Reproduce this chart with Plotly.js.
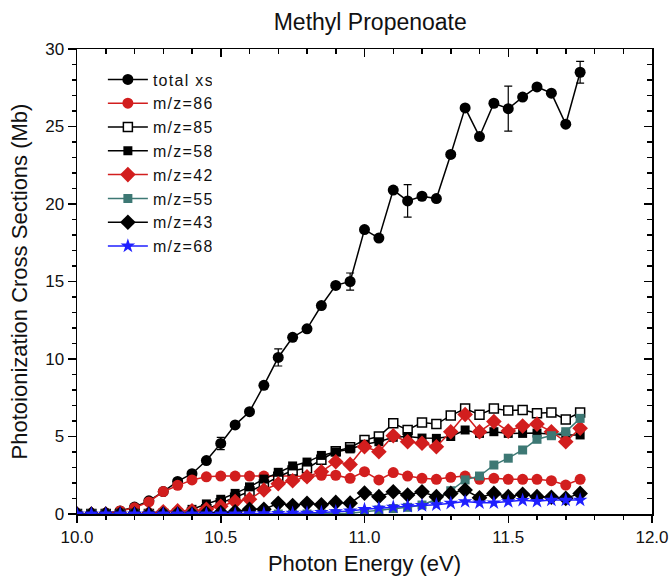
<!DOCTYPE html>
<html>
<head>
<meta charset="utf-8">
<script src="https://cdn.plot.ly/plotly-3.0.1.min.js"></script>
<style>html,body{margin:0;padding:0;background:#fff;}#chart{width:670px;height:577px;}
#chart .legendtext{letter-spacing:1.3px;}</style>
</head>
<body>
<div id="chart"></div>
<script>
const energy = [10.00,10.05,10.10,10.15,10.20,10.25,10.30,10.35,10.40,10.45,10.50,10.55,10.60,10.65,10.70,10.75,10.80,10.85,10.90,10.95,11.00,11.05,11.10,11.15,11.20,11.25,11.30,11.35,11.40,11.45,11.50,11.55,11.60,11.65,11.70,11.75];
const totalXs = [0,0,0.05,0.2,0.45,0.85,1.45,2.1,2.6,3.45,4.55,5.75,6.6,8.3,10.1,11.4,11.95,13.45,14.75,15.0,18.35,17.8,20.9,20.2,20.5,20.35,23.2,26.2,24.35,26.5,26.15,26.9,27.55,27.15,25.15,28.5];
const totalErr = [null,null,null,null,null,null,null,null,null,null,0.4,null,null,null,0.55,null,null,null,null,0.55,null,null,null,1.05,null,null,null,null,null,null,1.45,null,null,null,null,0.7];
const mz86 = [0,0,0.05,0.2,0.4,0.78,1.45,1.85,2.2,2.4,2.45,2.45,2.45,2.45,2.42,2.45,2.4,2.5,2.5,2.3,2.73,2.2,2.67,2.45,2.3,2.24,2.37,2.45,2.24,2.3,2.24,2.24,2.24,2.15,1.87,2.24];
const mz85 = [0,0,0,0,0,0,0,0.02,0.1,0.3,0.7,1.05,1.45,1.9,2.4,2.8,2.95,3.5,4.05,4.3,4.77,5.0,5.85,5.42,5.9,5.8,6.35,6.8,6.4,6.8,6.67,6.71,6.5,6.55,6.1,6.55];
const mz58 = [0,0,0,0,0,0,0.02,0.05,0.3,0.65,0.95,1.33,1.75,2.25,2.69,3.1,3.35,3.78,4.0,4.2,4.5,4.66,4.95,5.0,4.9,4.88,5.0,5.42,5.2,5.31,5.2,5.2,5.22,5.15,5.1,5.1];
const mz42 = [0,0,0,0,0,0.05,0.15,0.2,0.2,0.3,0.5,0.8,0.95,1.55,1.95,2.15,2.4,2.73,3.37,3.2,4.34,4.02,5.05,4.66,4.56,4.34,5.31,6.42,5.31,5.96,5.35,5.68,5.8,5.31,4.66,5.53];
const mz55 = [0,0,0,0,0,0,0,0,0,0,0,0,0,0,0,0,0,0,0.03,0.05,0.15,0.26,0.35,0.43,0.58,0.95,1.5,2.2,2.45,3.16,3.6,4.13,4.82,5.05,5.31,6.17];
const mz43 = [0,0,0,0,0,0,0,0,0,0.05,0.1,0.15,0.3,0.3,0.69,0.55,0.69,0.6,0.75,0.7,1.35,1.12,1.44,1.23,1.44,1.12,1.33,1.55,1.05,1.33,1.12,1.27,1.12,1.08,1.01,1.33];
const mz68 = [0,0,0,0,0,0,0,0,0,0,0,0,0.02,0.03,0.04,0.05,0.06,0.1,0.15,0.2,0.3,0.38,0.45,0.5,0.55,0.6,0.7,0.8,0.72,0.72,0.8,0.88,0.82,0.9,0.9,0.9];
const seriesNames = ['total xs','m/z=86','m/z=85','m/z=58','m/z=42','m/z=55','m/z=43','m/z=68'];

const RED = '#d21e1e', TEAL = '#3d7874', BLUE = '#1f1fff';
function tr(name, y, lineColor, marker, extra) {
  return Object.assign({
    type: 'scatter', mode: 'lines+markers', name: name, x: energy, y: y,
    line: {color: lineColor, width: 1.5}, marker: marker, cliponaxis: true
  }, extra || {});
}
const data = [
  tr(seriesNames[0], totalXs, '#000', {symbol: 'circle', size: 11, color: '#000'},
     {error_y: {type: 'data', array: totalErr, visible: true, color: '#000', thickness: 1.2, width: 4}}),
  tr(seriesNames[1], mz86, RED, {symbol: 'circle', size: 11, color: RED}),
  tr(seriesNames[2], mz85, '#000', {symbol: 'square', size: 9, color: '#fff', line: {color: '#000', width: 1.5}}),
  tr(seriesNames[3], mz58, '#000', {symbol: 'square', size: 9, color: '#000'}),
  tr(seriesNames[4], mz42, RED, {symbol: 'diamond', size: 12, color: RED}),
  tr(seriesNames[5], mz55, TEAL, {symbol: 'square', size: 9, color: TEAL}),
  tr(seriesNames[6], mz43, '#000', {symbol: 'diamond', size: 12, color: '#000'}),
  tr(seriesNames[7], mz68, BLUE, {symbol: 'star', size: 11, color: BLUE}),
  {type: 'scatter', mode: 'markers', x: [10], y: [0], xaxis: 'x2', yaxis: 'y2',
   marker: {opacity: 0}, showlegend: false, hoverinfo: 'skip'}
];

const FONT = 'Liberation Sans, Arial, sans-serif';
const axBase = {showgrid: false, zeroline: false, showline: true, linecolor: '#000', linewidth: 1.5,
  tickcolor: '#000', tickwidth: 1.5, ticklen: 8};
const layout = {
  width: 670, height: 577,
  margin: {l: 77, r: 18, t: 49, b: 63},
  paper_bgcolor: '#fff', plot_bgcolor: '#fff',
  font: {family: FONT, color: '#000', size: 17},
  title: {text: 'Methyl Propenoate', font: {family: FONT, size: 23, color: '#111'},
          x: 0.51, xref: 'paper', xanchor: 'center', y: 0.962, yref: 'container', yanchor: 'middle'},
  xaxis: Object.assign({}, axBase, {range: [10, 12], dtick: 0.5, tick0: 10, tickformat: '.1f',
    ticks: 'outside', ticklen: 7, tickfont: {size: 17, color: '#111'},
    minor: {dtick: 0.1, ticks: 'outside', ticklen: 4, tickcolor: '#000', tickwidth: 1.5},
    title: {text: 'Photon Energy (eV)', font: {size: 22, color: '#111'}, standoff: 9}}),
  yaxis: Object.assign({}, axBase, {range: [0, 30], dtick: 5, tick0: 0,
    ticks: 'outside', ticklen: 8, tickfont: {size: 17, color: '#111'},
    minor: {dtick: 1, ticks: 'outside', ticklen: 4, tickcolor: '#000', tickwidth: 1.5},
    title: {text: 'Photoionization Cross Sections (Mb)', font: {size: 22, color: '#111'}, standoff: 11}}),
  xaxis2: Object.assign({}, axBase, {range: [10, 12], dtick: 0.5, tick0: 10, overlaying: 'x', side: 'top',
    anchor: 'y2', ticks: 'inside', showticklabels: false,
    minor: {dtick: 0.1, ticks: 'inside', ticklen: 5, tickcolor: '#000', tickwidth: 1.5}}),
  yaxis2: Object.assign({}, axBase, {range: [0, 30], dtick: 5, tick0: 0, overlaying: 'y', side: 'right',
    anchor: 'x2', ticks: 'inside', showticklabels: false,
    minor: {dtick: 1, ticks: 'inside', ticklen: 5, tickcolor: '#000', tickwidth: 1.5}}),
  showlegend: true,
  legend: {x: 0.045, y: 0.971, xanchor: 'left', yanchor: 'top', bgcolor: 'rgba(0,0,0,0)',
    font: {family: FONT, size: 16, color: '#111'}, itemwidth: 40, tracegroupgap: 0},
  hovermode: false
};
Plotly.newPlot('chart', data, layout, {displayModeBar: false, staticPlot: true});
</script>
</body>
</html>
